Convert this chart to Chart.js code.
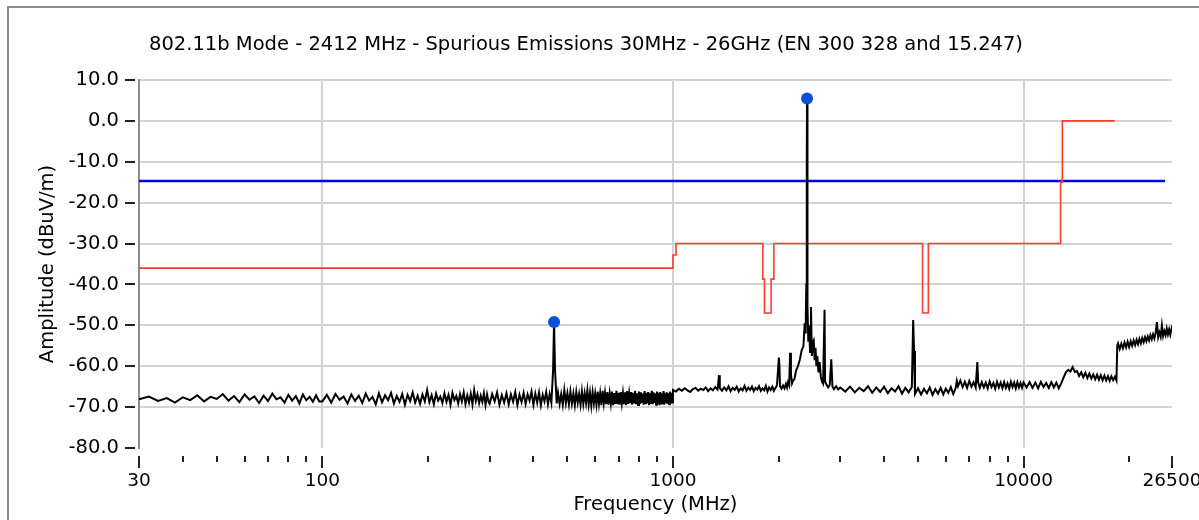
<!DOCTYPE html>
<html>
<head>
<meta charset="utf-8">
<script src="https://cdn.jsdelivr.net/npm/chart.js@4.4.1/dist/chart.umd.min.js"></script>
<style>
  html, body { margin: 0; padding: 0; background: #fff; overflow: hidden; }
  #wrap { position: relative; width: 1199px; height: 520px; }
  #spurChart { position: absolute; left: 0; top: 0; }
  #frame { position: absolute; left: 7px; top: 6px; width: 1300px; height: 600px;
           border-left: 2px solid #8d8d8d; border-top: 2px solid #8d8d8d; pointer-events: none; }
</style>
</head>
<body>
<div id="wrap">
  <canvas id="spurChart" width="1199" height="520"></canvas>
  <div id="frame"></div>
</div>
<script>
"use strict";

var traceFreq = [
    // 30 - 100 MHz
    30, 32, 34, 36, 38, 40, 42, 44, 46, 48,
    50, 52, 54, 56, 58, 60, 62, 64, 66, 68,
    70, 72, 74, 76, 78, 80, 82, 84, 86, 88,
    90, 92, 94, 96, 98,
    // 100 - 300 MHz
    100, 103, 106, 109, 112, 115, 118, 121, 124, 127,
    130, 133, 136, 139, 142, 145, 148, 151, 154, 157,
    160, 163, 166, 169, 172, 175, 178, 181, 184, 187,
    190, 193, 196, 199, 202, 205, 208, 211, 214, 217,
    220, 223, 226, 229, 232, 235, 238, 241, 244, 247,
    250, 253, 256, 259, 262, 265, 268, 271, 274, 277,
    280, 283, 286, 289, 292, 295, 298,
    // 300 - 1000 MHz
    300, 305, 310, 315, 320, 325, 330, 335, 340, 345,
    350, 355, 360, 365, 370, 375, 380, 385, 390, 395,
    400, 405, 410, 415, 420, 425, 430, 435, 440, 445,
    450, 455, 458, 461, 466,
    470, 475, 480, 485, 490, 495, 500, 505, 510, 515,
    520, 525, 530, 535, 540, 545, 550, 555, 560, 565,
    570, 575, 580, 585, 590, 595, 600, 605, 610, 615,
    620, 625, 630, 635, 640, 645, 650, 655, 660, 665,
    670, 675, 680, 685, 690, 695, 700, 705, 710, 715,
    720, 725, 730, 735, 740, 745, 750, 755, 760, 765,
    770, 775, 780, 785, 790, 795, 800, 805, 810, 815,
    820, 825, 830, 835, 840, 845, 850, 855, 860, 865,
    870, 875, 880, 885, 890, 895, 900, 905, 910, 915,
    920, 925, 930, 935, 940, 945, 950, 955, 960, 965,
    970, 975, 980, 985, 990, 995,
    // 1 - 2.2 GHz
    1000, 1020, 1040, 1060, 1080, 1100, 1120, 1140, 1160, 1180,
    1200, 1220, 1240, 1260, 1280, 1300, 1320, 1340,
    1353,
    1360, 1380, 1400, 1420, 1440, 1460, 1480, 1500, 1520, 1540,
    1560, 1580, 1600, 1620, 1640, 1660, 1680, 1700, 1720, 1740,
    1760, 1780, 1800, 1820, 1840, 1860, 1880, 1900, 1920, 1940,
    1960, 1980,
    2005, 2012, 2020, 2040, 2060, 2080, 2100, 2115, 2130, 2145,
    2158, 2170, 2185, 2200,
    // carrier
    2220, 2245, 2270, 2300, 2330, 2355, 2375, 2390, 2400, 2408,
    2412, 2416, 2422, 2432, 2445, 2460, 2475, 2490, 2505, 2520,
    2535, 2550, 2565, 2580, 2600, 2620, 2640, 2660, 2680, 2706,
    2715, 2740, 2770, 2800, 2828, 2850, 2880, 2920, 2960,
    // 3 - 10 GHz
    3000, 3100, 3200, 3300, 3400, 3500, 3600, 3700, 3800, 3900,
    4000, 4100, 4200, 4300, 4400, 4500, 4600, 4700, 4800,
    4843, 4870,
    4900, 5000, 5100, 5200, 5300, 5400, 5500, 5600, 5700, 5800,
    5900, 6000, 6100, 6200, 6300, 6400,
    6450,
    6500, 6600, 6700, 6800, 6900, 7000, 7100, 7200, 7300,
    7380, 7420,
    7500, 7600, 7700, 7800, 7900, 8000, 8100, 8200, 8300, 8400,
    8500, 8600, 8700, 8800, 8900, 9000, 9100, 9200, 9300, 9400,
    9500, 9600, 9700, 9800, 9900, 10000,
    // 10 - 26.5 GHz
    10200, 10400, 10600, 10800, 11000, 11200, 11400, 11600, 11800, 12000,
    12200, 12400, 12600, 12800,
    13000, 13200, 13400, 13600, 13800, 14000,
    14200, 14400, 14600, 14800, 15000, 15200, 15400, 15600, 15800, 16000,
    16200, 16400, 16600, 16800, 17000, 17200, 17400, 17600, 17800, 18000,
    18200, 18400,
    18500,
    18600, 18800, 19000, 19200, 19400, 19600, 19800, 20000, 20200, 20400,
    20600, 20800, 21000, 21200, 21400, 21600, 21800, 22000, 22200, 22400,
    22600, 22800, 23000, 23200, 23400, 23600, 23800, 24000, 24200, 24400,
    24600, 24800, 25000, 25200, 25400, 25600, 25800, 26000, 26200, 26400,
    26500
];
var traceAmp = [
    // 30 - 100 MHz
    -68.1, -67.4, -68.5, -67.8, -68.9, -67.6, -68.3, -67.1, -68.6, -67.5,
    -68.0, -66.8, -68.4, -67.3, -68.8, -66.9, -68.2, -67.4, -69.0, -67.2,
    -68.5, -66.7, -68.1, -67.6, -68.9, -67.0, -68.4, -67.3, -69.1, -66.9,
    -68.3, -67.5, -68.7, -67.1, -68.6,
    // 100 - 300 MHz
    -68.6, -67.0, -68.9, -66.8, -68.2, -67.4, -69.1, -66.9, -68.5, -67.2,
    -69.0, -66.7, -68.4, -67.5, -69.3, -66.6, -68.8, -67.1, -68.3, -66.5,
    -69.1, -67.3, -68.7, -66.8, -69.4, -67.0, -68.5, -66.4, -68.9, -67.2,
    -69.2, -66.9, -68.6, -65.8, -68.8, -67.1, -69.3, -66.7, -68.4, -67.4,
    -69.0, -66.6, -68.7, -67.0, -69.4, -66.5, -68.3, -67.3, -69.1, -66.8,
    -68.6, -66.4, -69.2, -67.1, -68.9, -66.7, -69.3, -65.9, -68.5, -66.9,
    -69.0, -67.2, -68.7, -66.6, -69.4, -66.9, -68.8,
    // 300 - 1000 MHz
    -69.2, -66.8, -68.6, -66.4, -69.4, -67.1, -68.9, -66.6, -69.3, -66.9,
    -68.7, -66.3, -69.5, -67.0, -68.8, -66.5, -69.2, -66.9, -68.4, -66.2,
    -69.4, -66.7, -68.9, -66.4, -69.5, -67.0, -68.6, -66.3, -69.3, -66.8,
    -68.9, -61.2, -49.2, -61.0, -69.1,
    -66.5, -69.2, -66.8, -69.4, -65.8, -69.0, -66.6, -69.3, -66.2, -69.1,
    -66.7, -69.5, -66.3, -68.9, -66.8, -69.4, -66.1, -69.2, -66.6, -69.0,
    -65.9, -69.3, -66.5, -69.6, -66.4, -69.1, -66.7, -69.4, -66.2, -69.2,
    -66.6, -69.5, -66.0, -69.0, -66.5, -69.3, -66.3, -69.4, -66.7, -69.1,
    -66.2, -69.5, -66.6, -69.2, -66.0, -69.3, -66.5, -69.4, -66.3, -69.0,
    -66.6, -69.3, -66.4, -69.5, -66.1, -69.2, -66.7, -69.0, -66.3, -69.4,
    -66.5, -69.1, -66.0, -69.3, -66.6, -69.5, -66.2, -69.2, -66.4, -69.0,
    -66.7, -69.4, -66.1, -69.3, -66.5, -69.1, -66.3, -69.5, -66.6, -69.2,
    -66.0, -69.3, -66.4, -69.0, -66.7, -69.4, -66.2, -69.2, -66.5, -69.5,
    -66.3, -69.1, -66.6, -69.3, -66.1, -69.4, -66.5, -69.0, -66.4, -69.2,
    -66.6, -69.3, -66.2, -69.1, -66.5, -68.9,
    // 1 - 2.2 GHz
    -65.8, -66.2, -65.5, -66.0, -65.4, -65.9, -66.3, -65.6, -65.3, -66.0,
    -65.5, -65.8, -65.2, -66.1, -65.4, -65.9, -65.1, -65.7,
    -62.2,
    -65.3, -66.0, -65.2, -65.9, -64.9, -66.1, -65.3, -65.8, -65.0, -66.2,
    -65.4, -65.9, -64.8, -66.0, -65.2, -65.8, -65.0, -66.1, -65.3, -65.7,
    -64.9, -66.0, -65.4, -65.9, -64.8, -66.2, -65.2, -65.8, -65.0, -66.0,
    -65.3, -64.7,
    -57.9, -60.0, -64.9, -65.5, -64.7, -65.4, -64.3, -65.2, -63.9, -64.6,
    -56.7, -62.0, -64.2, -63.5,
    // carrier
    -63.2, -61.0, -60.1, -58.4, -56.0, -55.2, -49.5, -52.0, -40.0, -10.0,
    5.5, -12.0, -45.3, -54.0, -50.0, -56.5, -45.5, -57.5, -54.0, -53.6,
    -58.5, -55.5, -60.0, -57.5, -61.5, -59.0, -62.5, -63.8, -64.3, -46.2,
    -63.8, -64.5, -65.2, -64.6, -58.3, -65.0, -65.6, -64.9, -65.7,
    // 3 - 10 GHz
    -65.2, -66.2, -65.0, -66.4, -65.3, -66.1, -64.9, -66.5, -65.2, -66.3,
    -65.0, -66.6, -65.4, -66.2, -64.9, -66.7, -65.3, -66.4, -65.1,
    -48.7, -56.3,
    -66.8, -65.4, -66.9, -65.5, -66.6, -65.2, -67.0, -65.6, -66.7, -65.3,
    -66.9, -65.5, -66.5, -65.1, -66.8, -65.4,
    -63.6,
    -64.9, -63.5, -65.1, -63.8, -65.3, -63.6, -65.0, -63.9, -65.2,
    -59.0, -64.0,
    -65.3, -63.9, -65.2, -64.0, -65.4, -63.7, -65.1, -64.1, -65.5, -63.8,
    -65.2, -64.0, -65.4, -63.9, -65.3, -64.2, -65.5, -63.8, -65.1, -64.0,
    -65.4, -63.9, -65.2, -64.1, -65.3, -64.0,
    // 10 - 26.5 GHz
    -65.2, -63.9, -65.3, -64.0, -65.4, -63.8, -65.1, -64.1, -65.3, -63.9,
    -65.2, -64.0, -65.4, -64.2,
    -62.8, -61.5, -60.9, -61.3, -60.2, -61.4,
    -61.2, -62.4, -61.5, -62.7, -61.6, -62.9, -61.8, -63.0, -62.0, -63.2,
    -62.1, -63.3, -62.2, -63.4, -62.3, -63.5, -62.4, -63.6, -62.5, -63.4,
    -62.6, -63.5,
    -55.0,
    -54.4, -55.8, -54.5, -55.6, -54.2, -55.4, -54.0, -55.3, -53.9, -55.0,
    -53.7, -54.8, -53.5, -54.6, -53.3, -54.4, -53.1, -54.1, -52.9, -53.9,
    -52.7, -53.7, -52.4, -53.4, -52.2, -53.2, -51.9, -49.2, -52.9, -51.7,
    -52.8, -50.0, -52.6, -51.4, -52.4, -50.8, -52.2, -51.0, -52.3, -50.9,
    -51.6
];

// limit line (red)
var limitFreq = [30, 1000, 1000, 1020, 1020, 1804, 1804, 1824, 1824, 1905, 1905, 1940, 1940,
                 5150, 5150, 5350, 5350, 12750, 12750, 12900, 12900, 18200];
var limitAmp = [-36, -36, -32.8, -32.8, -30, -30, -38.7, -38.7, -47, -47, -38.7, -38.7, -30,
                -30, -47, -47, -30, -30, -15, -15, 0, 0];

// blue reference line
var refFreq = [30, 25300];
var refAmp = [-14.7, -14.7];

// peak markers
var peakFreq = [458, 2412];
var peakAmp = [-49.2, 5.5];

// axis ticks
var xTickVals = [30, 40, 50, 60, 70, 80, 90, 100, 200, 300, 400, 500, 600, 700, 800, 900,
                 1000, 2000, 3000, 4000, 5000, 6000, 7000, 8000, 9000, 10000, 20000, 26500];
var xLabelVals = [30, 100, 1000, 10000, 26500];
var xGridVals = [100, 1000, 10000];

function toPoints(xs, ys) {
    return xs.map(function(x, i) { return {x: x, y: ys[i]}; });
}

var fontFam = "'DejaVu Sans', Verdana, sans-serif";

var ctx = document.getElementById("spurChart").getContext('2d');
var spurChart = new Chart(ctx, {
    type: 'line',
    data: {
        datasets: [{
            label: 'Peaks',
            data: toPoints(peakFreq, peakAmp),
            showLine: false,
            pointRadius: 6,
            pointBackgroundColor: '#0b50dc',
            pointBorderWidth: 0
        }, {
            label: 'Trace',
            data: toPoints(traceFreq, traceAmp),
            borderColor: '#000',
            borderWidth: 2,
            pointRadius: 0,
            tension: 0
        }, {
            label: 'Limit',
            data: toPoints(limitFreq, limitAmp),
            borderColor: '#ff3b2e',
            borderWidth: 1.6,
            pointRadius: 0,
            tension: 0
        }, {
            label: 'Ref',
            data: toPoints(refFreq, refAmp),
            borderColor: '#0000f0',
            borderWidth: 2.5,
            pointRadius: 0
        }]
    },
    options: {
        responsive: false,
        animation: false,
        devicePixelRatio: 1,
        layout: { padding: { left: 0, right: 27, top: 0, bottom: 0 } },
        plugins: {
            legend: { display: false },
            tooltip: { enabled: false },
            title: {
                display: true,
                text: '802.11b Mode - 2412 MHz - Spurious Emissions 30MHz - 26GHz (EN 300 328 and 15.247)',
                color: '#000',
                font: { family: fontFam, size: 19.5, weight: 'normal' },
                padding: { top: 33, bottom: 23.6 }
            }
        },
        scales: {
            x: {
                type: 'logarithmic',
                min: 30,
                max: 26500,
                afterBuildTicks: function(s) {
                    s.ticks = xTickVals.map(function(v) { return {value: v}; });
                },
                afterFit: function(s) {
                    s.height = 72;
                    s.paddingLeft = 0;
                    s.paddingRight = 0;
                },
                ticks: {
                    autoSkip: false,
                    maxRotation: 0,
                    minRotation: 0,
                    padding: 2,
                    color: '#000',
                    font: { family: fontFam, size: 18.5 },
                    callback: function(v) { return xLabelVals.indexOf(v) >= 0 ? String(v) : ''; }
                },
                grid: {
                    color: function(c) {
                        return c.tick && xGridVals.indexOf(c.tick.value) >= 0 ? '#d3d3d3' : 'rgba(0,0,0,0)';
                    },
                    lineWidth: 2,
                    tickLength: 20,
                    tickWidth: 2,
                    tickColor: '#222',
                    tickBorderDash: function(c) {
                        return c.tick && xLabelVals.indexOf(c.tick.value) >= 0 ? [0, 8, 12, 40] : [0, 8, 6, 40];
                    }
                },
                border: { display: false },
                title: {
                    display: true,
                    text: 'Frequency (MHz)',
                    color: '#000',
                    font: { family: fontFam, size: 19.5 },
                    padding: { top: 0, bottom: 3 }
                }
            },
            y: {
                min: -80,
                max: 10,
                afterFit: function(s) {
                    s.width = 139;
                    s.paddingTop = 0;
                    s.paddingBottom = 0;
                },
                ticks: {
                    stepSize: 10,
                    padding: 6,
                    color: '#000',
                    font: { family: fontFam, size: 19.5 },
                    callback: function(v) { return Number(v).toFixed(1); }
                },
                grid: {
                    color: function(c) {
                        return c.tick && c.tick.value === -80 ? 'rgba(0,0,0,0)' : '#d3d3d3';
                    },
                    lineWidth: 2,
                    tickLength: 14,
                    tickWidth: 2,
                    tickColor: '#222',
                    tickBorderDash: [10, 40]
                },
                border: { display: true, color: '#8c8c8c', width: 2 },
                title: {
                    display: true,
                    text: 'Amplitude (dBuV/m)',
                    color: '#000',
                    font: { family: fontFam, size: 19.5 },
                    padding: { top: 36.5, bottom: 0 }
                }
            }
        }
    }
});
</script>
</body>
</html>
